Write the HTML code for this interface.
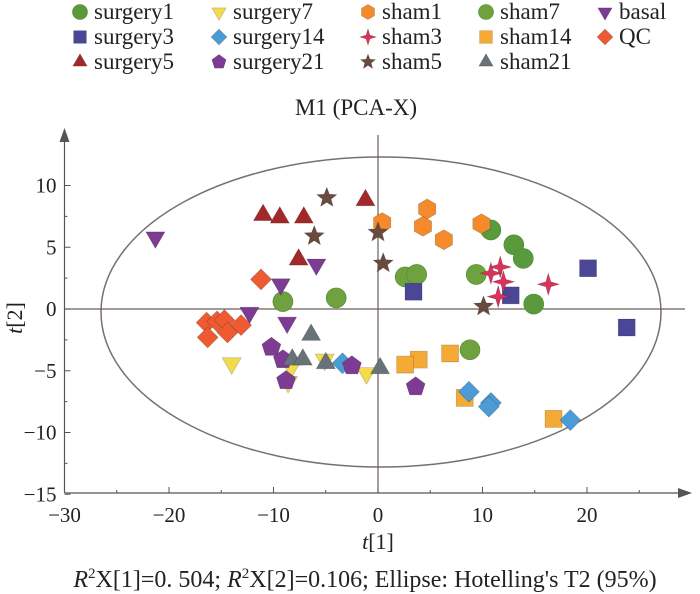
<!DOCTYPE html>
<html><head><meta charset="utf-8"><style>
html,body{margin:0;padding:0;background:#fff;}
svg{display:block;font-family:"Liberation Serif",serif;}
svg text{font-family:"Liberation Serif",serif;}
</style></head><body>
<svg id="chart" width="700" height="594" viewBox="0 0 700 594">
<g id="legend"></g>
<text x="356" y="115" font-size="23" text-anchor="middle" fill="#222">M1 (PCA-X)</text>
<g id="axes"></g>
<g id="marks"></g>
<text x="378" y="549" font-size="22" text-anchor="middle" fill="#222"><tspan font-style="italic">t</tspan>[1]</text>
<text transform="translate(22,318) rotate(-90)" font-size="22" text-anchor="middle" fill="#222"><tspan font-style="italic">t</tspan>[2]</text>
<text x="365" y="587" font-size="24" text-anchor="middle" fill="#222"><tspan font-style="italic">R</tspan><tspan font-size="15" dy="-9">2</tspan><tspan dy="9">X[1]=0. 504; </tspan><tspan font-style="italic">R</tspan><tspan font-size="15" dy="-9">2</tspan><tspan dy="9">X[2]=0.106; Ellipse: Hotelling's T2 (95%)</tspan></text>
</svg>
<script>
const seriesNames=["surgery1","surgery3","surgery5","surgery7","surgery14","surgery21","sham1","sham3","sham5","sham7","sham14","sham21","basal","QC"];
const surgery1X=[10.8,13.0,13.9,14.9];
const surgery1Y=[6.4,5.2,4.1,0.4];
const surgery3X=[3.4,12.7,20.1,23.8];
const surgery3Y=[1.4,1.1,3.3,-1.5];
const surgery5X=[-11.0,-9.4,-7.1,-1.2,-7.6];
const surgery5Y=[7.6,7.4,7.4,8.8,4.0];
const surgery7X=[-14.0,-8.3,-5.1,-1.1,-8.6];
const surgery7Y=[-4.4,-4.7,-4.1,-5.2,-5.9];
const surgery14X=[-3.4,8.7,10.8,10.6,18.4];
const surgery14Y=[-4.4,-6.7,-7.6,-7.9,-9.0];
const surgery21X=[-10.2,-9.1,-8.8,-2.5,3.6];
const surgery21Y=[-3.1,-4.1,-5.8,-4.6,-6.3];
const sham1X=[0.4,4.7,4.3,6.3,9.9];
const sham1Y=[7.0,8.1,6.7,5.6,6.9];
const sham3X=[11.7,10.8,12.0,11.5,16.3];
const sham3Y=[3.4,2.9,2.2,1.0,2.0];
const sham5X=[-4.9,-6.1,0.0,0.5,10.1];
const sham5Y=[9.0,5.9,6.2,3.7,0.2];
const sham7X=[-9.1,-4.0,2.6,3.7,9.4,8.8];
const sham7Y=[0.6,0.9,2.6,2.8,2.8,-3.3];
const sham14X=[3.9,2.6,6.9,8.3,16.8];
const sham14Y=[-4.1,-4.5,-3.6,-7.2,-8.9];
const sham21X=[-6.4,-8.2,-7.2,-5.0,0.2];
const sham21Y=[-2.1,-4.1,-4.1,-4.4,-4.8];
const basalX=[-21.3,-5.9,-9.3,-12.3,-8.7];
const basalY=[5.8,3.6,2.0,-0.3,-1.1];
const qcX=[-11.2,-16.4,-15.4,-14.7,-14.4,-13.1,-16.3];
const qcY=[2.4,-1.1,-1.0,-0.9,-1.9,-1.3,-2.3];
const xTicks=[-30,-20,-10,0,10,20];
const yTicks=[10,5,0,-5,-10,-15];

const NS="http://www.w3.org/2000/svg";
const sx=v=>378+v*10.45;
const sy=v=>309-v*12.35;
function mk(tag,attrs,parent){const e=document.createElementNS(NS,tag);for(const k in attrs)e.setAttribute(k,attrs[k]);parent.appendChild(e);return e;}

const styles={
surgery1:["circle","#5a9a3c"],surgery3:["square","#4b4796"],surgery5:["tri","#a3282a"],
surgery7:["tridown","#f3dc4c"],surgery14:["diamond","#4b9bd6"],surgery21:["pent","#7e3b94"],
sham1:["hex","#f48a2c"],sham3:["star4","#d9335b"],sham5:["star5","#6b4a3e"],
sham7:["circle","#6fa23e"],sham14:["square","#f5aa35"],sham21:["tri","#687378"],
basal:["tridown","#7e3b94"],QC:["diamond","#ee5a31"]};

function shapePath(t,cx,cy,r){
  const pts=(n,rot,rr)=>{let a=[];for(let i=0;i<n;i++){const ang=rot+i*2*Math.PI/n;a.push([cx+rr[i%rr.length]*Math.cos(ang),cy+rr[i%rr.length]*Math.sin(ang)]);}return "M"+a.map(p=>p[0].toFixed(1)+","+p[1].toFixed(1)).join("L")+"Z";};
  switch(t){
    case "square": return `M${cx-r*0.85},${cy-r*0.85}h${1.7*r}v${1.7*r}h${-1.7*r}Z`;
    case "tri": return pts(3,-Math.PI/2,[r*1.1]);
    case "tridown": return pts(3,Math.PI/2,[r*1.1]);
    case "diamond": return pts(4,-Math.PI/2,[r*1.05]);
    case "pent": return pts(5,-Math.PI/2,[r]);
    case "hex": return pts(6,-Math.PI/2,[r]);
    case "star4": return pts(8,-Math.PI/2,[r*1.1,r*0.35]);
    case "star5": return pts(10,-Math.PI/2,[r*1.05,r*0.45]);
  }
}
function drawMarker(t,color,cx,cy,r,parent){
  if(t==="circle") return mk("circle",{cx:cx,cy:cy,r:r,fill:color,stroke:"#4d8a33","stroke-width":0.6},parent);
  return mk("path",{d:shapePath(t,cx,cy,r),fill:color,stroke:"rgba(0,0,0,0.25)","stroke-width":0.6},parent);
}

// axes
const axes=document.getElementById("axes");
const ell=mk("ellipse",{cx:381,cy:312,rx:280,ry:155,fill:"none",stroke:"#7a6f6a","stroke-width":1.5},axes);


const xa=mk("line",{x1:sx(-30),y1:493,x2:685,y2:493,stroke:"#555","stroke-width":1.2},axes);


mk("path",{d:"M692,493 L678,488 L678,498Z",fill:"#555"},axes);
const ya=mk("line",{x1:sx(-30),y1:493,x2:sx(-30),y2:135,stroke:"#555","stroke-width":1.2},axes);


mk("path",{d:`M${sx(-30)},128 L${sx(-30)-5},142 L${sx(-30)+5},142Z`,fill:"#555"},axes);
mk("line",{x1:sx(-30),y1:sy(0),x2:685,y2:sy(0),stroke:"#6a5f5a","stroke-width":1.2},axes);
mk("line",{x1:sx(0),y1:135,x2:sx(0),y2:493,stroke:"#6a5f5a","stroke-width":1.2},axes);
for(let v=-30;v<=25;v+=5){mk("line",{x1:sx(v),y1:493,x2:sx(v),y2:v%10===0?487:490,stroke:"#555"},axes);}
for(let v=-15;v<=10;v+=2.5){mk("line",{x1:sx(-30),y1:sy(v),x2:sx(-30)+(v%5===0?6:3),y2:sy(v),stroke:"#555"},axes);}
xTicks.forEach(v=>{const t=mk("text",{x:sx(v),y:522,"font-size":21,"text-anchor":"middle",fill:"#222"},axes);t.textContent=v<0?"\u2212"+(-v):String(v);

});
yTicks.forEach(v=>{const t=mk("text",{x:sx(-30)-8,y:sy(v)+7,"font-size":21,"text-anchor":"end",fill:"#222"},axes);t.textContent=v<0?"\u2212"+(-v):String(v);

});

// data
const data={surgery1:[surgery1X,surgery1Y],surgery3:[surgery3X,surgery3Y],surgery5:[surgery5X,surgery5Y],surgery7:[surgery7X,surgery7Y],surgery14:[surgery14X,surgery14Y],surgery21:[surgery21X,surgery21Y],sham1:[sham1X,sham1Y],sham3:[sham3X,sham3Y],sham5:[sham5X,sham5Y],sham7:[sham7X,sham7Y],sham14:[sham14X,sham14Y],sham21:[sham21X,sham21Y],basal:[basalX,basalY],QC:[qcX,qcY]};
const marks=document.getElementById("marks");
const order=["sham7","surgery1","surgery3","sham14","surgery14","surgery7","surgery21","sham21","surgery5","basal","QC","sham1","sham5","sham3"];
order.forEach(n=>{const [xs,ys]=data[n];const [t,c]=styles[n];
  xs.forEach((x,i)=>{const m=drawMarker(t,c,sx(x),sy(ys[i]),10,marks);
    
    });});

// legend
const lg=document.getElementById("legend");
const colX=[80,219,368,486,605];
seriesNames.forEach((n,i)=>{
  let col,row;
  if(i<3){col=0;row=i;}else if(i<6){col=1;row=i-3;}else if(i<9){col=2;row=i-6;}else if(i<12){col=3;row=i-9;}else{col=4;row=i-12;}
  const g=mk("g",{},lg);
  
  
  const [t,c]=styles[n];
  drawMarker(t,c,colX[col],12+row*25,7.5,g);
  const tx=mk("text",{x:colX[col]+14,y:19+row*25,"font-size":23,fill:"#222"},g);
  tx.textContent=n;
});
</script>
</body></html>
